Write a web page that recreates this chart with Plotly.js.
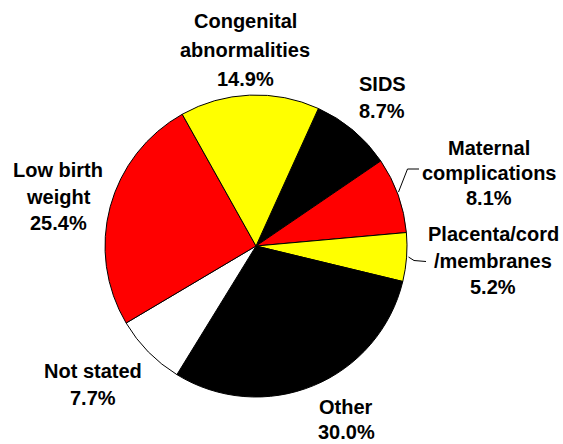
<!DOCTYPE html>
<html>
<head>
<meta charset="utf-8">
<script src="https://cdn.plot.ly/plotly-3.0.1.min.js"></script>
<style>html,body{margin:0;padding:0;background:#fff;}#chart{width:563px;height:444px;}</style>
</head>
<body>
<div id="chart"></div>
<script>
// Data (clockwise from the SIDS slice)
const categories = ["SIDS", "Maternal complications", "Placenta/cord/membranes", "Other", "Not stated", "Low birth weight", "Congenital abnormalities"];
const values = [8.7, 8.1, 5.2, 30.0, 7.7, 25.4, 14.9];
const sliceColors = ["#000000", "#FF0000", "#FFFF00", "#000000", "#FFFFFF", "#FF0000", "#FFFF00"];
const labelLines = [["SIDS"], ["Maternal", "complications"], ["Placenta/cord", "/membranes"], ["Other"], ["Not stated"], ["Low birth", "weight"], ["Congenital", "abnormalities"]];

// Layout positions (pixels) for label blocks: [centerX, firstLineY, lineSpacing]
const labelPos = [[382, 84, 27], [489, 147.5, 25], [493, 234, 26.5], [346, 406.5, 25.5], [92.5, 371, 26.5], [58, 170, 26.5], [245, 21, 29]];
const W = 563, H = 444;

const annotations = [];
categories.forEach((c, i) => {
  const lines = labelLines[i].concat([values[i].toFixed(1) + "%"]);
  lines.forEach((t, k) => {
    annotations.push({
      xref: "paper", yref: "paper",
      x: labelPos[i][0] / W, y: 1 - (labelPos[i][1] + k * labelPos[i][2]) / H,
      xanchor: "center", yanchor: "middle",
      text: t, showarrow: false,
      font: {family: "Liberation Sans, Arial, sans-serif", size: 20, color: "#000", weight: 700}
    });
  });
});

function px(x) { return x / W; }
function py(y) { return 1 - y / H; }
const shapes = [
  {type: "path", xref: "paper", yref: "paper",
   path: "M" + px(398.5) + "," + py(192) + " L" + px(407.5) + "," + py(169) + " L" + px(419) + "," + py(169),
   line: {color: "#000", width: 1}},
  {type: "path", xref: "paper", yref: "paper",
   path: "M" + px(408.5) + "," + py(257) + " L" + px(414) + "," + py(260.5) + " L" + px(426) + "," + py(261.5),
   line: {color: "#000", width: 1}}
];

const cx = 256, cy = 246, r = 151;
const data = [{
  type: "pie",
  labels: categories,
  values: values,
  sort: false,
  direction: "clockwise",
  rotation: 24.4,
  textinfo: "none",
  hoverinfo: "label+percent",
  marker: {colors: sliceColors, line: {color: "#000", width: 1}},
  domain: {x: [(cx - r) / W, (cx + r) / W], y: [1 - (cy + r) / H, 1 - (cy - r) / H]},
  showlegend: false
}];

const layout = {
  width: W, height: H,
  margin: {l: 0, r: 0, t: 0, b: 0},
  paper_bgcolor: "#fff",
  showlegend: false,
  annotations: annotations,
  shapes: shapes
};

Plotly.newPlot("chart", data, layout, {displayModeBar: false, staticPlot: true});
</script>
</body>
</html>
